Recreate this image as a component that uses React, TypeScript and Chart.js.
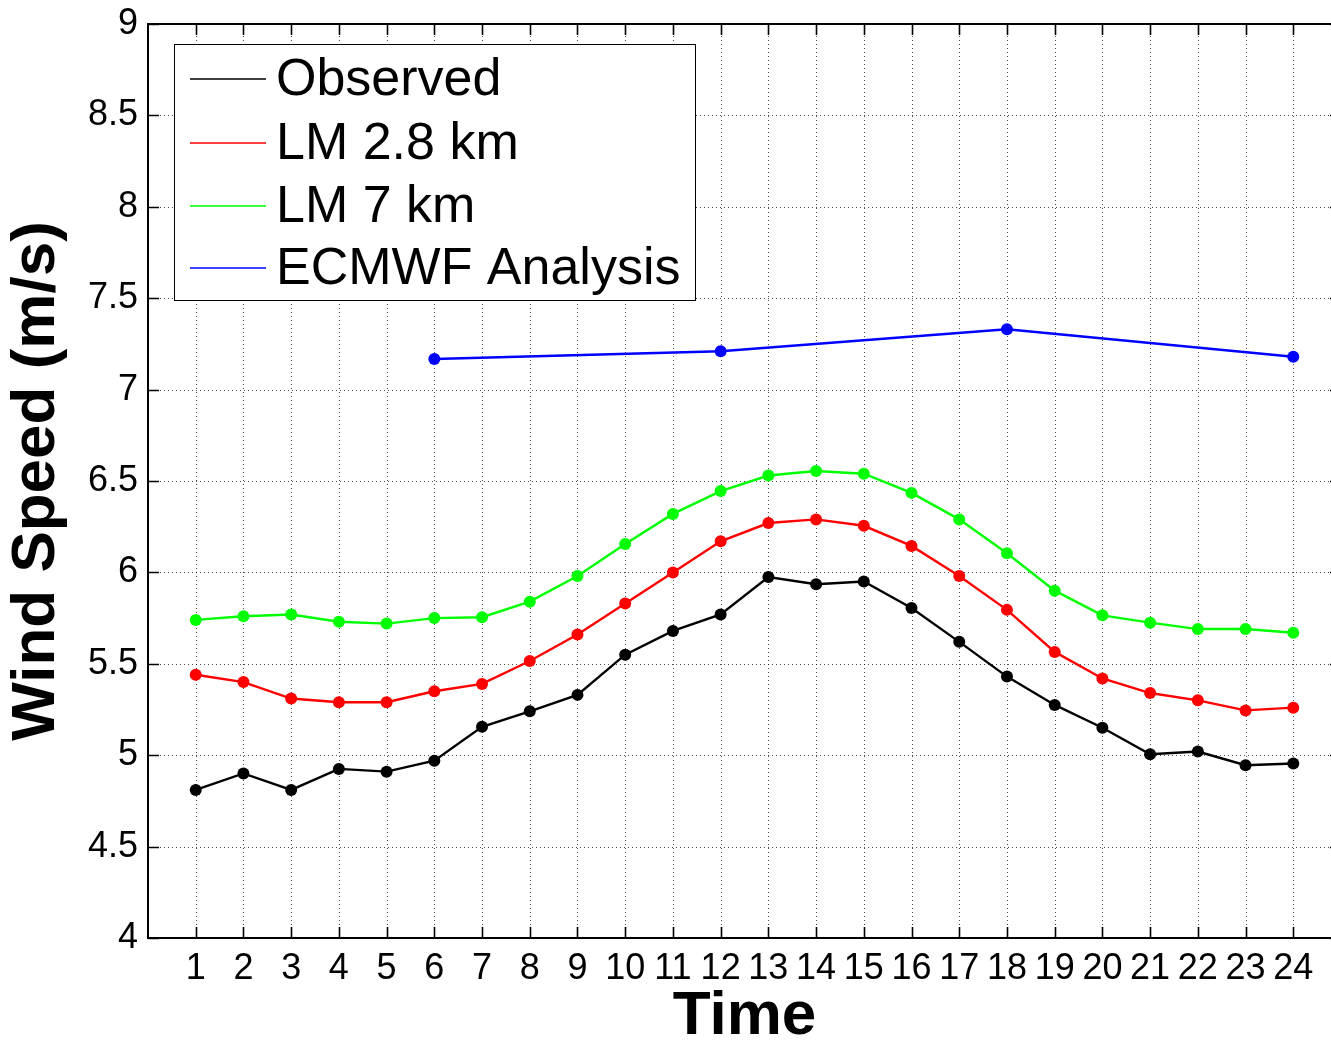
import React, { useEffect, useRef } from "react";
import { Chart, registerables } from "chart.js";

Chart.register(...registerables);

// ---- data ----
const hours = [1, 2, 3, 4, 5, 6, 7, 8, 9, 10, 11, 12, 13, 14, 15, 16, 17, 18, 19, 20, 21, 22, 23, 24];
const observed = [4.81, 4.9, 4.81, 4.925, 4.91, 4.97, 5.155, 5.24, 5.33, 5.55, 5.68, 5.77, 5.975, 5.935, 5.95, 5.805, 5.62, 5.43, 5.275, 5.15, 5.005, 5.02, 4.945, 4.955];
const lm28 = [5.44, 5.4, 5.31, 5.29, 5.29, 5.35, 5.39, 5.515, 5.66, 5.83, 6.0, 6.17, 6.27, 6.29, 6.255, 6.145, 5.98, 5.795, 5.565, 5.42, 5.34, 5.3, 5.245, 5.26];
const lm7 = [5.74, 5.76, 5.77, 5.73, 5.72, 5.75, 5.755, 5.84, 5.98, 6.155, 6.32, 6.445, 6.53, 6.555, 6.54, 6.435, 6.29, 6.105, 5.9, 5.765, 5.725, 5.69, 5.69, 5.67];
const ecmwfHours = [6, 12, 18, 24];
const ecmwf = [7.167, 7.21, 7.33, 7.18];
const yTicks = [4, 4.5, 5, 5.5, 6, 6.5, 7, 7.5, 8, 8.5, 9];
const seriesNames = ["Observed", "LM 2.8 km", "LM 7 km", "ECMWF Analysis"];
const xTitle = "Time";
const yTitle = "Wind Speed (m/s)";

const seriesColors = ["#000000", "#ff0000", "#00ff00", "#0000ff"];
const FONT = "'Liberation Sans', Arial, Helvetica, sans-serif";

const toPoints = (xs: number[], ys: number[]) => xs.map((x, i) => ({ x, y: ys[i] }));

const framePlugin = {
  id: "matlabFrame",
  beforeDatasetsDraw(chart: any) {
    const { ctx, chartArea: a, scales } = chart;
    const x = scales.x;
    const y = scales.y;
    ctx.save();
    // dotted grid
    ctx.strokeStyle = "rgba(0,0,0,0.7)";
    ctx.lineWidth = 1;
    ctx.setLineDash([1, 3]);
    for (const h of hours) {
      const px = Math.round(x.getPixelForValue(h)) + 0.5;
      ctx.beginPath();
      ctx.moveTo(px, a.top);
      ctx.lineTo(px, a.bottom);
      ctx.stroke();
    }
    for (const v of yTicks) {
      if (v <= y.min || v >= y.max) continue;
      const py = Math.round(y.getPixelForValue(v)) + 0.5;
      ctx.beginPath();
      ctx.moveTo(a.left, py);
      ctx.lineTo(a.right, py);
      ctx.stroke();
    }
    ctx.setLineDash([]);
    // box
    ctx.strokeStyle = "#000";
    ctx.lineWidth = 2;
    ctx.strokeRect(a.left, a.top, a.right - a.left, a.bottom - a.top);
    // inward ticks
    const tl = 11;
    ctx.lineWidth = 1.6;
    for (const h of hours) {
      const px = Math.round(x.getPixelForValue(h)) + 0.5;
      ctx.beginPath();
      ctx.moveTo(px, a.bottom);
      ctx.lineTo(px, a.bottom - tl);
      ctx.moveTo(px, a.top);
      ctx.lineTo(px, a.top + tl);
      ctx.stroke();
    }
    for (const v of yTicks) {
      const py = Math.round(y.getPixelForValue(v)) + 0.5;
      ctx.beginPath();
      ctx.moveTo(a.left, py);
      ctx.lineTo(a.left + tl, py);
      ctx.moveTo(a.right, py);
      ctx.lineTo(a.right - tl, py);
      ctx.stroke();
    }
    ctx.restore();
  },
};

const legendPlugin = {
  id: "matlabLegend",
  afterDraw(chart: any) {
    const { ctx } = chart;
    const box = { l: 174.5, t: 44.5, r: 695.5, b: 300.5 };
    const rows = [80, 144, 207, 269];
    ctx.save();
    ctx.fillStyle = "#fff";
    ctx.fillRect(box.l, box.t, box.r - box.l, box.b - box.t);
    ctx.strokeStyle = "#000";
    ctx.lineWidth = 1;
    ctx.strokeRect(box.l, box.t, box.r - box.l, box.b - box.t);
    ctx.font = `52px ${FONT}`;
    ctx.textBaseline = "middle";
    ctx.textAlign = "left";
    seriesNames.forEach((name, i) => {
      const yy = rows[i];
      ctx.strokeStyle = seriesColors[i];
      ctx.lineWidth = 1.5;
      ctx.beginPath();
      ctx.moveTo(190, yy - 1);
      ctx.lineTo(266, yy - 1);
      ctx.stroke();
      ctx.fillStyle = "#000";
      ctx.fillText(name, 276, yy + 1);
    });
    ctx.restore();
  },
};

export default function App() {
  const ref = useRef<HTMLCanvasElement | null>(null);

  useEffect(() => {
    if (!ref.current) return;
    const mk = (label: string, pts: { x: number; y: number }[], color: string) => ({
      label,
      data: pts,
      borderColor: color,
      backgroundColor: color,
      borderWidth: 2.4,
      pointRadius: 6,
      pointBorderWidth: 0,
      pointBackgroundColor: color,
      tension: 0,
    });
    const chart = new Chart(ref.current, {
      type: "line",
      data: {
        datasets: [
          mk(seriesNames[0], toPoints(hours, observed), seriesColors[0]),
          mk(seriesNames[1], toPoints(hours, lm28), seriesColors[1]),
          mk(seriesNames[2], toPoints(hours, lm7), seriesColors[2]),
          mk(seriesNames[3], toPoints(ecmwfHours, ecmwf), seriesColors[3]),
        ],
      },
      options: {
        responsive: false,
        animation: false,
        devicePixelRatio: 1,
        layout: { padding: { top: 24, right: 0, left: 0, bottom: 0 } },
        plugins: {
          legend: { display: false },
          tooltip: { enabled: false },
          title: { display: false },
        },
        scales: {
          x: {
            type: "linear",
            min: 0,
            max: 25,
            afterFit: (s: any) => {
              s.height = 107;
              s.paddingLeft = 0;
              s.paddingRight = 0;
            },
            afterBuildTicks: (s: any) => {
              s.ticks = [0, ...hours, 25].map((v) => ({ value: v }));
            },
            ticks: {
              autoSkip: false,
              maxRotation: 0,
              minRotation: 0,
              padding: 9,
              color: "#000",
              font: { family: FONT, size: 36 },
              callback: (v: any) => (hours.includes(Number(v)) ? String(v) : ""),
            },
            grid: { display: false, drawTicks: false },
            border: { display: false },
            title: {
              display: true,
              text: xTitle,
              color: "#000",
              font: { family: FONT, size: 62, weight: "bold", lineHeight: 0.9 },
              padding: { top: 0, bottom: 0 },
            },
          },
          y: {
            type: "linear",
            min: 4,
            max: 9,
            afterFit: (s: any) => {
              s.width = 148;
              s.paddingTop = 0;
              s.paddingBottom = 0;
            },
            afterBuildTicks: (s: any) => {
              s.ticks = yTicks.map((v) => ({ value: v }));
            },
            ticks: {
              padding: 10,
              color: "#000",
              font: { family: FONT, size: 36 },
              callback: (v: any) => String(v),
            },
            grid: { display: false, drawTicks: false },
            border: { display: false },
            title: {
              display: true,
              text: yTitle,
              color: "#000",
              font: { family: FONT, size: 62, weight: "bold", lineHeight: 1.2 },
              padding: { top: 0, bottom: 0 },
            },
          },
        },
      },
      plugins: [framePlugin, legendPlugin],
    } as any);
    return () => chart.destroy();
  }, []);

  return (
    <div
      style={{
        position: "fixed",
        left: 0,
        top: 0,
        width: 1331,
        height: 1045,
        overflow: "hidden",
        background: "#fff",
      }}
    >
      <canvas ref={ref} width={1347} height={1045} style={{ display: "block" }} />
    </div>
  );
}
